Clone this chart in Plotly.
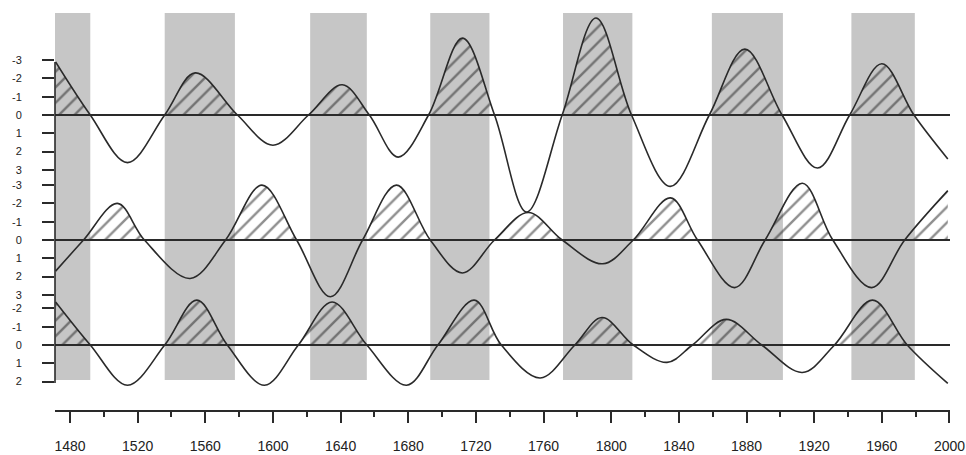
import plotly.graph_objects as go

# ---------------- data ----------------
years_top = [1471.5, 1492, 1514, 1536, 1554, 1579, 1600, 1621, 1641, 1657, 1674, 1692, 1712,
             1731, 1750, 1771, 1791, 1812, 1835, 1858, 1879, 1901, 1922, 1941, 1960, 1979, 1999]
vals_top = [-2.9, 0, 2.6, 0, -2.3, 0, 1.65, 0, -1.65, 0, 2.3, 0, -4.2,
            0, 5.3, 0, -5.3, 0, 3.9, 0, -3.6, 0, 2.9, 0, -2.8, 0, 2.4]

years_mid = [1471.5, 1488, 1508, 1524, 1551, 1572, 1593.5, 1614, 1634, 1653, 1673, 1693, 1712,
             1731, 1751, 1771, 1795, 1813, 1835, 1851, 1873, 1891, 1913, 1931, 1954, 1973.5, 1999]
vals_mid = [1.7, 0, -2.0, 0, 2.1, 0, -3.0, 0, 3.1, 0, -3.0, 0, 1.8,
            0, -1.5, 0, 1.3, 0, -2.3, 0, 2.6, 0, -3.1, 0, 2.6, 0, -2.7]

years_bot = [1471.5, 1492, 1514, 1536, 1555, 1573, 1595, 1615, 1635, 1655.5, 1679, 1697.5, 1719,
             1735, 1758, 1778.5, 1794.5, 1813, 1833, 1848, 1868, 1889, 1913, 1932, 1954.5, 1975, 1999]
vals_bot = [-2.35, 0, 2.2, 0, -2.45, 0, 2.2, 0, -2.35, 0, 2.2, 0, -2.45,
            0, 1.8, 0, -1.5, 0, 0.95, 0, -1.4, 0, 1.5, 0, -2.45, 0, 2.1]

band_start = [1471.1, 1536, 1622, 1693, 1771.5, 1859.5, 1942]
band_end = [1492, 1577.5, 1655.5, 1728, 1812.5, 1901.5, 1979.5]

x_tick_years = list(range(1480, 2001, 40))
x_tick_labels = [str(y) for y in x_tick_years]
y_ticks_top = [-3, -2, -1, 0, 1, 2, 3]
y_ticks_mid = [-3, -2, -1, 0, 1, 2, 3]
y_ticks_bot = [-2, -1, 0, 1, 2]

# ---------------- layout geometry (pixels, in the browser window) ----------------
W, H = 966, 455
PLOT_L, PLOT_R, PLOT_T, PLOT_B = 55, 950, 10, 410
M_L, M_T, M_R, M_B = PLOT_L, PLOT_T, W - PLOT_R, H - PLOT_B
PLOT_H = PLOT_B - PLOT_T        # 400
U = 18.3                        # pixels per unit
Z_PIX = [115, 240, 345]         # zero lines (pixel y from top)
BAND_TOP_PIX, BAND_BOT_PIX = 13, 380
AX_TOP_PIX, AX_BOT_PIX = 62, 383

LINE_C = "#2a2a2a"
HATCH_C = "#1f1f1f"
BAND_C = "#c6c6c6"
FONT = "Liberation Sans"


def paper_y(pix):
    return (PLOT_B - pix) / PLOT_H


def main_range(z):
    return [(PLOT_B - z) / U, -(z - PLOT_T) / U]


def clip_range(z):
    return [0, -(z - PLOT_T) / U]


fig = go.Figure()

series = [(years_top, vals_top), (years_mid, vals_mid), (years_bot, vals_bot)]
main_axes = ["y", "y2", "y3"]
clip_axes = ["y4", "y5", "y6"]

# hatched areas (on clipped axes so only the upper side is drawn)
for (xs, vs), ya in zip(series, clip_axes):
    fig.add_trace(go.Scatter(
        x=xs, y=vs, xaxis="x", yaxis=ya, mode="lines",
        line=dict(width=0, shape="spline", color=HATCH_C),
        fill="tozeroy", fillcolor="rgba(0,0,0,0)",
        fillpattern=dict(shape="/", fgcolor=HATCH_C, bgcolor="rgba(0,0,0,0)",
                         size=11, solidity=0.22),
        hoverinfo="skip", showlegend=False))

# curves
for (xs, vs), ya in zip(series, main_axes):
    fig.add_trace(go.Scatter(
        x=xs, y=vs, xaxis="x", yaxis=ya, mode="lines",
        line=dict(width=1.6, shape="spline", color=LINE_C),
        showlegend=False))

shapes = []
for s, e in zip(band_start, band_end):
    shapes.append(dict(type="rect", xref="x", yref="paper", x0=s, x1=e,
                       y0=paper_y(BAND_BOT_PIX), y1=paper_y(BAND_TOP_PIX),
                       fillcolor=BAND_C, line=dict(width=0), layer="below"))
for ya in main_axes:
    shapes.append(dict(type="line", xref="paper", yref=ya, x0=0, x1=1, y0=0, y1=0,
                       line=dict(color=LINE_C, width=1.8), layer="above"))
shapes.append(dict(type="line", xref="paper", yref="paper", x0=0, x1=0,
                   y0=paper_y(AX_BOT_PIX), y1=paper_y(AX_TOP_PIX),
                   line=dict(color=LINE_C, width=1.6), layer="above"))

ytick_common = dict(ticks="outside", ticklen=12, tickwidth=1.5, tickcolor=LINE_C,
                    showgrid=False, zeroline=False, showline=False,
                    tickfont=dict(family=FONT, size=11, color="#222"),
                    ticklabelstandoff=18, fixedrange=True, automargin=False)

layout = dict(
    width=W, height=H,
    margin=dict(l=M_L, r=M_R, t=M_T, b=M_B),
    paper_bgcolor="white", plot_bgcolor="rgba(0,0,0,0)",
    showlegend=False,
    shapes=shapes,
    xaxis=dict(range=[1480 - 15 / 1.692, 2000.3], domain=[0, 1],
               tickvals=x_tick_years, ticktext=x_tick_labels,
               ticks="outside", ticklen=11, tickwidth=1.5, tickcolor=LINE_C,
               showline=True, linecolor=LINE_C, linewidth=1.6,
               showgrid=False, zeroline=False,
               minor=dict(dtick=20, tick0=1480, ticks="outside", ticklen=5,
                          tickwidth=1.5, tickcolor=LINE_C, showgrid=False),
               tickfont=dict(family=FONT, size=14, color="#222"),
               ticklabelstandoff=11, ticklabeloverflow="allow", automargin=False),
    yaxis=dict(range=main_range(Z_PIX[0]), tickvals=y_ticks_top,
               ticktext=[str(v) for v in y_ticks_top], **ytick_common),
    yaxis2=dict(range=main_range(Z_PIX[1]), overlaying="y", tickvals=y_ticks_mid,
                ticktext=[str(v) for v in y_ticks_mid], **ytick_common),
    yaxis3=dict(range=main_range(Z_PIX[2]), overlaying="y", tickvals=y_ticks_bot,
                ticktext=[str(v) for v in y_ticks_bot], **ytick_common),
)
for ya, z in zip(["yaxis4", "yaxis5", "yaxis6"], Z_PIX):
    layout[ya] = dict(domain=[paper_y(z), 1], range=clip_range(z), anchor="x",
                      visible=False, fixedrange=True, automargin=False)

fig.update_layout(**layout)
fig.write_html(
    "out.html",
    config={"displayModeBar": False},
    post_script="document.body.style.margin='0px';document.body.style.overflow='hidden';",
)
